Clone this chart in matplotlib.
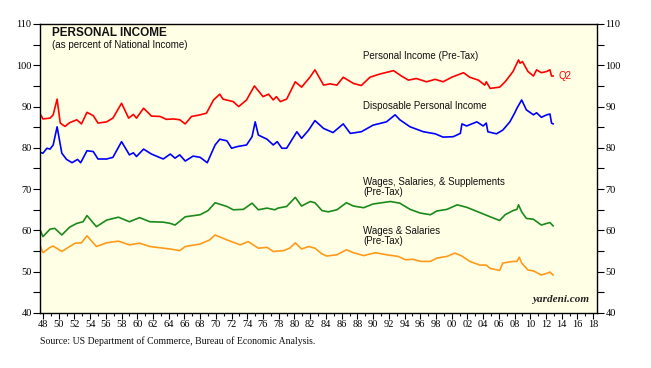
import matplotlib.pyplot as plt
from matplotlib.ticker import MultipleLocator, FixedLocator

# Personal income as percent of national income
pi_years = [1947.6, 1948.0, 1948.9, 1949.3, 1949.8, 1950.2, 1950.8, 1951.4, 1952.3, 1952.9,
            1953.6, 1954.4, 1955.0, 1956.1, 1956.9, 1958.0, 1958.9, 1959.5, 1959.9, 1960.8,
            1961.8, 1962.9, 1963.7, 1964.6, 1965.4, 1966.1, 1966.9, 1968.0, 1968.8, 1969.7,
            1970.5, 1970.9, 1972.2, 1972.9, 1973.9, 1974.9, 1976.0, 1976.7, 1977.3, 1977.7,
            1978.2, 1979.0, 1980.1, 1980.9, 1982.0, 1982.6, 1983.7, 1984.5, 1985.4, 1986.2,
            1987.5, 1988.5, 1989.6, 1990.9, 1992.6, 1993.6, 1994.5, 1995.5, 1996.8, 1997.9,
            1998.9, 2000.0, 2001.5, 2002.3, 2003.4, 2004.2, 2004.4, 2004.9, 2006.1, 2006.8,
            2007.8, 2008.5, 2008.7, 2009.0, 2009.7, 2010.4, 2010.8, 2011.4, 2012.1, 2012.5,
            2012.7, 2012.9]
pi_vals = [88.4, 87.0, 87.2, 88.0, 91.8, 86.0, 85.2, 86.1, 86.8, 85.8,
           88.6, 87.8, 86.0, 86.3, 87.2, 90.8, 87.2, 88.1, 87.2, 89.6,
           87.7, 87.6, 86.9, 87.0, 86.8, 85.8, 87.6, 88.0, 88.4, 91.6,
           93.0, 91.8, 91.2, 90.0, 91.6, 95.0, 92.4, 93.0, 91.6, 92.4,
           91.2, 91.8, 96.0, 94.7, 97.2, 98.9, 95.2, 95.5, 95.2, 97.1,
           95.6, 95.1, 97.1, 97.9, 98.7, 97.4, 96.4, 96.8, 96.0, 96.6,
           96.0, 97.1, 98.2, 97.1, 96.4, 95.2, 96.0, 94.4, 94.7, 96.0,
           98.5, 101.3, 100.5, 100.9, 98.5, 97.4, 98.9, 98.2, 98.5, 98.9,
           97.4, 97.4]

dpi_years = [1947.6, 1948.0, 1948.5, 1948.9, 1949.3, 1949.8, 1950.4, 1951.0, 1951.7, 1952.4,
             1952.8, 1953.6, 1954.4, 1955.0, 1956.1, 1956.9, 1958.0, 1959.0, 1959.5, 1959.9,
             1960.8, 1961.8, 1963.3, 1964.2, 1964.8, 1965.4, 1966.1, 1967.1, 1968.0, 1968.9,
             1969.9, 1970.5, 1971.4, 1972.0, 1972.7, 1973.9, 1974.6, 1975.0, 1975.4, 1976.5,
             1977.3, 1977.8, 1978.4, 1979.0, 1980.3, 1980.9, 1981.8, 1982.6, 1983.7, 1984.9,
             1986.2, 1987.1, 1988.5, 1990.0, 1991.7, 1992.8, 1993.4, 1994.7, 1996.4, 1997.9,
             1998.9, 2000.2, 2001.1, 2001.3, 2001.9, 2003.2, 2004.0, 2004.4, 2004.6, 2005.7,
             2006.5, 2007.4, 2008.0, 2008.3, 2008.9, 2009.5, 2010.4, 2010.8, 2011.4, 2012.1,
             2012.5, 2012.7, 2012.9]
dpi_vals = [78.9, 78.7, 79.9, 79.7, 80.7, 85.1, 78.7, 77.2, 76.4, 77.2,
            76.4, 79.3, 79.1, 77.3, 77.3, 77.7, 81.5, 78.3, 78.8, 77.9,
            79.7, 78.5, 77.3, 78.5, 77.5, 78.3, 76.8, 78.0, 77.7, 76.4,
            80.7, 82.1, 81.7, 79.9, 80.3, 80.7, 82.7, 86.3, 83.1, 82.1,
            80.7, 81.5, 79.9, 79.9, 83.9, 82.3, 84.3, 86.6, 84.7, 83.7,
            85.8, 83.5, 83.9, 85.5, 86.3, 88.0, 86.8, 85.1, 83.9, 83.4,
            82.6, 82.7, 83.5, 85.8, 85.3, 86.3, 85.3, 86.0, 83.9, 83.4,
            84.3, 86.3, 88.4, 89.6, 91.6, 89.2, 88.0, 88.5, 87.4, 88.0,
            88.2, 86.0, 85.8]

wss_years = [1947.6, 1948.0, 1948.9, 1949.5, 1950.4, 1951.4, 1952.3, 1953.1, 1953.6, 1954.8,
             1956.1, 1957.6, 1959.0, 1960.3, 1961.6, 1963.3, 1964.2, 1964.8, 1966.1, 1968.0,
             1969.0, 1969.9, 1971.4, 1972.2, 1973.5, 1974.6, 1975.4, 1976.5, 1977.5, 1977.9,
             1979.0, 1980.1, 1980.9, 1982.0, 1982.6, 1983.5, 1984.3, 1985.4, 1986.6, 1987.5,
             1988.8, 1990.0, 1992.2, 1993.4, 1994.7, 1996.0, 1997.3, 1998.1, 1999.4, 2000.7,
             2001.9, 2003.6, 2004.9, 2006.1, 2006.8, 2007.8, 2008.3, 2008.5, 2008.9, 2009.5,
             2010.4, 2011.4, 2012.1, 2012.5, 2012.9]
wss_vals = [60.3, 58.5, 60.3, 60.5, 58.9, 60.8, 61.7, 62.1, 63.6, 60.9,
            62.5, 63.2, 62.1, 63.1, 62.1, 62.0, 61.7, 61.3, 63.3, 63.8,
            64.8, 66.7, 65.8, 65.0, 65.1, 66.6, 65.0, 65.4, 65.0, 65.4,
            65.8, 68.0, 65.9, 67.0, 66.7, 64.8, 64.5, 65.0, 66.7, 65.9,
            65.5, 66.4, 67.0, 66.6, 65.1, 64.2, 63.8, 64.7, 65.1, 66.2,
            65.6, 64.3, 63.3, 62.4, 63.8, 64.8, 65.1, 66.2, 64.5, 62.9,
            62.7, 61.3, 61.7, 61.9, 61.1]

ws_years = [1947.6, 1948.0, 1948.9, 1949.3, 1950.4, 1951.4, 1952.1, 1952.9, 1953.6, 1954.8,
            1956.1, 1957.6, 1959.0, 1960.3, 1961.6, 1963.3, 1964.2, 1965.4, 1966.1, 1968.0,
            1969.2, 1969.9, 1971.4, 1973.1, 1974.1, 1975.4, 1976.5, 1977.3, 1978.6, 1979.4,
            1980.1, 1980.9, 1981.8, 1982.6, 1983.5, 1984.1, 1985.4, 1986.6, 1987.5, 1988.8,
            1990.3, 1991.7, 1993.2, 1994.1, 1995.1, 1996.0, 1997.3, 1998.1, 1999.4, 2000.4,
            2001.3, 2002.3, 2003.6, 2004.4, 2004.9, 2006.1, 2006.5, 2007.8, 2008.3, 2008.6,
            2008.9, 2009.7, 2010.4, 2011.4, 2012.1, 2012.5, 2012.9]
ws_vals = [56.5, 54.6, 55.9, 56.2, 54.9, 56.1, 56.9, 57.0, 58.7, 56.1,
           57.0, 57.4, 56.5, 56.9, 56.1, 55.7, 55.5, 55.1, 56.1, 56.7,
           57.7, 58.9, 57.7, 56.5, 57.3, 55.7, 55.9, 54.9, 55.1, 55.7,
           57.0, 55.5, 56.1, 55.7, 54.3, 53.8, 54.1, 55.3, 54.6, 53.9,
           54.6, 54.1, 53.7, 52.9, 53.0, 52.5, 52.5, 53.3, 53.7, 54.5,
           53.8, 52.5, 51.6, 51.6, 50.8, 50.3, 52.1, 52.5, 52.5, 53.5,
           52.1, 50.4, 50.2, 49.2, 49.6, 49.9, 49.2]

tick_years = list(range(1948, 2019, 2))
tick_labels = [f"{y % 100:02d}" for y in tick_years]

serif = ['Liberation Serif', 'DejaVu Serif']
sans = ['Liberation Sans', 'DejaVu Sans']

fig = plt.figure(figsize=(6.51, 3.68), dpi=100)
ax = fig.add_axes([0.0614, 0.1495, 0.8556, 0.7853])
ax.set_facecolor('#FFFFE6')

lw = 1.2
ax.plot(pi_years, pi_vals, color='#FF0000', lw=lw)
ax.plot(dpi_years, dpi_vals, color='#0000FF', lw=lw)
ax.plot(wss_years, wss_vals, color='#1A8A1A', lw=lw)
ax.plot(ws_years, ws_vals, color='#FF9A1A', lw=lw)

ax.set_xlim(1947.62, 2018.48)
ax.set_ylim(40, 110)

ax.xaxis.set_major_locator(FixedLocator(tick_years))
ax.set_xticklabels(tick_labels)
ax.xaxis.set_minor_locator(MultipleLocator(1))
ax.yaxis.set_major_locator(MultipleLocator(10))
ax.yaxis.set_minor_locator(MultipleLocator(5))
ax.tick_params(axis='both', which='both', direction='out', color='black', width=0.8)
ax.tick_params(axis='x', which='major', length=4, labelsize=7.5, pad=1)
ax.tick_params(axis='x', which='minor', length=2)
ax.tick_params(axis='y', which='major', length=5, labelsize=7.5, pad=1,
               right=True, labelright=True)
ax.tick_params(axis='y', which='minor', length=5, right=True)
for lab in ax.get_xticklabels() + ax.get_yticklabels():
    lab.set_family(serif)
for sp in ax.spines.values():
    sp.set_linewidth(1.0)
    sp.set_color('black')

# Titles and series labels
ax.text(1949.2, 107.7, "PERSONAL INCOME", fontsize=8.5, fontweight='bold',
        family=sans, va='center', ha='left', color='#111111')
ax.text(1949.2, 105.0, "(as percent of National Income)", fontsize=7,
        family=sans, va='center', ha='left', color='#111111')
ax.text(1988.7, 102.2, "Personal Income (Pre-Tax)", fontsize=7,
        family=sans, va='center', ha='left', color='#111111')
ax.text(2013.6, 97.3, "Q2", fontsize=7, family=sans, va='center', ha='left', color='#FF0000')
ax.text(1988.7, 90.2, "Disposable Personal Income", fontsize=7,
        family=sans, va='center', ha='left', color='#111111')
ax.text(1988.7, 70.6, "Wages, Salaries, & Supplements\n(Pre-Tax)", fontsize=7,
        family=sans, va='center', ha='left', color='#111111', linespacing=1.0)
ax.text(1988.7, 58.6, "Wages & Salaries\n(Pre-Tax)", fontsize=7,
        family=sans, va='center', ha='left', color='#111111', linespacing=1.0)
ax.text(0.985, 0.03, "yardeni.com", transform=ax.transAxes, fontsize=8,
        fontstyle='italic', fontweight='bold', family=serif, ha='right', va='bottom',
        color='#222222')

fig.text(0.0614, 0.073, "Source: US Department of Commerce, Bureau of Economic Analysis.",
         fontsize=7, family=serif, ha='left', va='center', color='#111111')

fig.savefig("out.png", dpi=100)
